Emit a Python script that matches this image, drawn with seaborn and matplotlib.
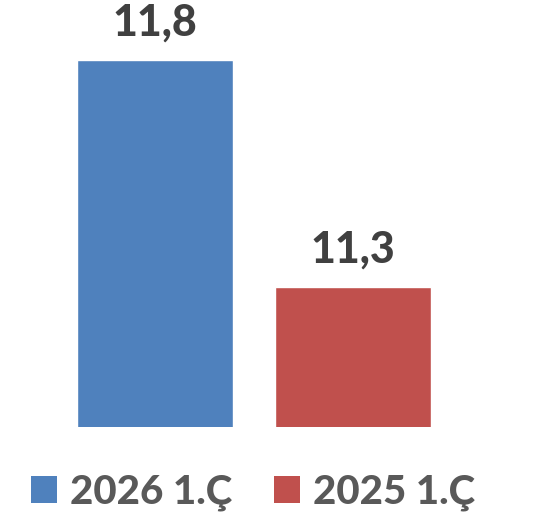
import matplotlib
matplotlib.use("Agg")
import matplotlib.pyplot as plt
import seaborn as sns
import pandas as pd
from matplotlib.patches import Patch

categories = ["2026 1.Ç", "2025 1.Ç"]
values = [11.8, 11.3]
value_labels = ["11,8", "11,3"]
colors = ["#4F81BD", "#C0504D"]

sns.set_theme(style="white")
plt.rcParams['font.family'] = ['Lato', 'DejaVu Sans']

df = pd.DataFrame({"period": categories, "value": values})

fig = plt.figure(figsize=(5.4, 5.23), dpi=100)
ax = fig.add_axes([0, 1 - 426.7 / 523, 1, 426.7 / 523])
sns.barplot(data=df, x="period", y="value", hue="period", palette=colors,
            width=0.788, saturation=1, legend=False, ax=ax)

ax.set_xlim(-0.783, 1.944)
ax.set_ylim(10.992, 10.992 + 426.7 / 454)
ax.axis("off")

for i, (v, lab) in enumerate(zip(values, value_labels)):
    ax.annotate(lab, (i, v), xytext=(0, 17.3), textcoords="offset points",
                ha="center", va="baseline", fontsize=31, fontweight="black",
                color="#404040")

handles = [Patch(facecolor=c, edgecolor="none", label=l) for c, l in zip(colors, categories)]
leg = fig.legend(handles=handles, loc="center", bbox_to_anchor=(253 / 540, 1 - 492 / 523),
                 ncol=2, frameon=False, fontsize=29, handlelength=0.65, handleheight=0.65,
                 handletextpad=0.32, columnspacing=1.05, borderaxespad=0, borderpad=0)
for t in leg.get_texts():
    t.set_fontweight("black")
    t.set_color("#595959")

fig.savefig("out.png", dpi=100, facecolor="white")
